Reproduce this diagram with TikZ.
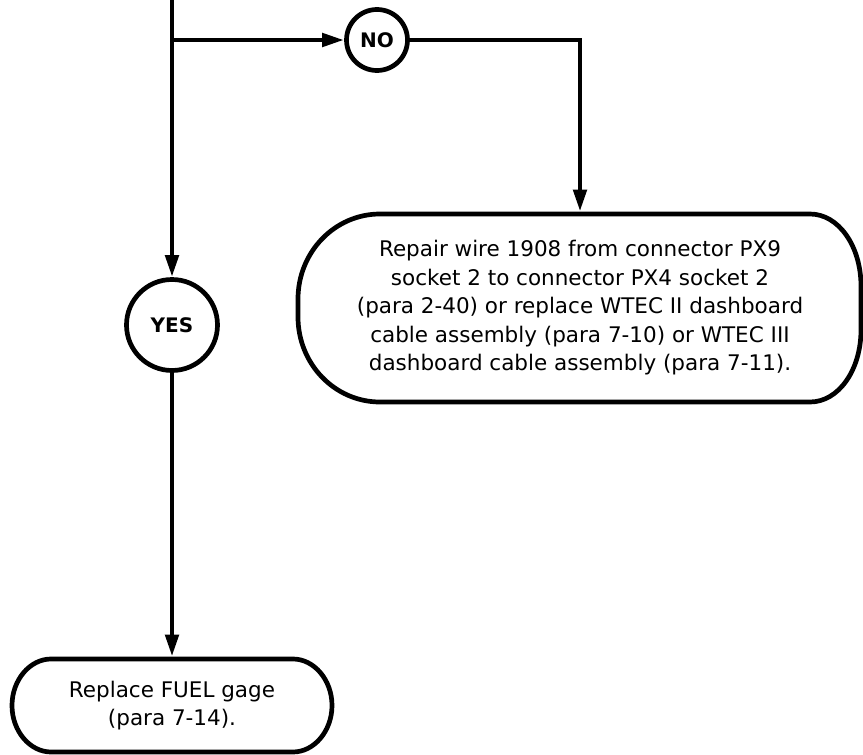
\documentclass[tikz,border=0pt]{standalone}
\usepackage{fontspec}
\setmainfont{DejaVu Sans}
\usetikzlibrary{arrows.meta}
\begin{document}
\begin{tikzpicture}[x=1pt,y=-1pt,
  line width=4.7pt,
  arr/.style={-{Triangle[length=22pt,width=13pt]}},
  decision/.style={circle,draw,inner sep=0pt,font=\fontsize{20}{24}\selectfont\bfseries},
  boxtext/.style={rectangle,inner sep=0pt,align=center,font=\fontsize{21.5}{28.5}\selectfont}]
\useasboundingbox (0,0) rectangle (863,755);

% outlines of the rounded boxes
\draw (380,214) -- (810,214)
  .. controls (838.7,214) and (861,246.2) .. (861,286)
  -- (861,330)
  .. controls (861,369.8) and (838.7,402) .. (810,402)
  -- (380,402)
  .. controls (334.7,402) and (298,363.9) .. (298,317)
  -- (298,299)
  .. controls (298,252.1) and (334.7,214) .. (380,214) -- cycle;
\draw (51,659) -- (293,659)
  .. controls (314,659) and (332,679.8) .. (332,705.5)
  .. controls (332,731.2) and (314,752) .. (293,752)
  -- (51,752)
  .. controls (30,752) and (12,731.2) .. (12,705.5)
  .. controls (12,679.8) and (30,659) .. (51,659) -- cycle;

\node[boxtext,minimum width=563pt,minimum height=188pt] (repair) at (580,308)
  {Repair wire 1908 from connector PX9\\socket 2 to connector PX4 socket 2\\(para 2-40) or replace WTEC II dashboard\\cable assembly (para 7-10) or WTEC III\\dashboard cable assembly (para 7-11).};
\node[boxtext,minimum width=320pt,minimum height=93pt] (fuel) at (172,705.5)
  {Replace FUEL gage\\(para 7-14).};

\node[decision,minimum size=61pt] (no) at (377,40) {NO};
\node[decision,minimum size=91pt] (yes) at (172,325) {YES};

\coordinate (top) at (172,0);
\coordinate (j) at (172,40);

\draw[arr] (top) -- (yes.north);
\draw[arr] (j) -- (no.west);
\draw[arr] (no.east) -| (repair.north);
\draw[arr] (yes.south) -- (fuel.north);
\end{tikzpicture}
\end{document}
